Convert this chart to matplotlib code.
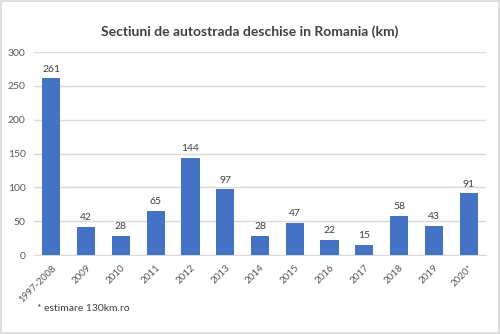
import matplotlib
matplotlib.use("Agg")
import matplotlib.pyplot as plt
from matplotlib.patches import Rectangle

categories = ["1997-2008", "2009", "2010", "2011", "2012", "2013", "2014",
              "2015", "2016", "2017", "2018", "2019", "2020*"]
values = [261, 42, 28, 65, 144, 97, 28, 47, 22, 15, 58, 43, 91]
yticks = [0, 50, 100, 150, 200, 250, 300]

plt.rcParams["font.family"] = ["Lato", "DejaVu Sans"]

fig = plt.figure(figsize=(5, 3.34), dpi=100)
fig.patch.set_facecolor("white")
fig.add_artist(Rectangle((0.002, 0.003), 0.996, 0.994, transform=fig.transFigure,
                         fill=False, edgecolor="#d9d9d9", linewidth=1.2))

ax = fig.add_axes([0.068, 0.2365, 0.904, 0.6075])
x = range(len(categories))
bars = ax.bar(x, values, width=0.52, color="#4472c4", zorder=3)
for xi, v in zip(x, values):
    ax.text(xi, v + 7, str(v), ha="center", va="bottom", fontsize=7.5, color="#404040")

ax.set_xlim(-0.5, len(categories) - 0.5)
ax.set_ylim(0, 300)
ax.set_yticks(yticks)
ax.set_yticklabels([str(t) for t in yticks], fontsize=7.5, color="#595959")
ax.set_xticks(list(x))
ax.set_xticklabels(categories, rotation=45, ha="right", rotation_mode="anchor",
                   fontsize=7, color="#595959")
ax.tick_params(axis="both", length=0)
ax.tick_params(axis="y", pad=6)
ax.tick_params(axis="x", pad=6)
ax.grid(axis="y", color="#d9d9d9", linewidth=1, zorder=0)
for s in ["top", "right", "left"]:
    ax.spines[s].set_visible(False)
ax.spines["bottom"].set_color("#d9d9d9")

fig.text(0.5, 0.905, "Sectiuni de autostrada deschise in Romania (km)", ha="center",
         va="center", fontsize=10, fontweight="bold", color="#404040")
fig.text(0.074, 0.077, "* estimare 130km.ro", ha="left", va="center",
         fontsize=7.5, color="#404040")

fig.savefig("out.png", dpi=100, facecolor="white")
